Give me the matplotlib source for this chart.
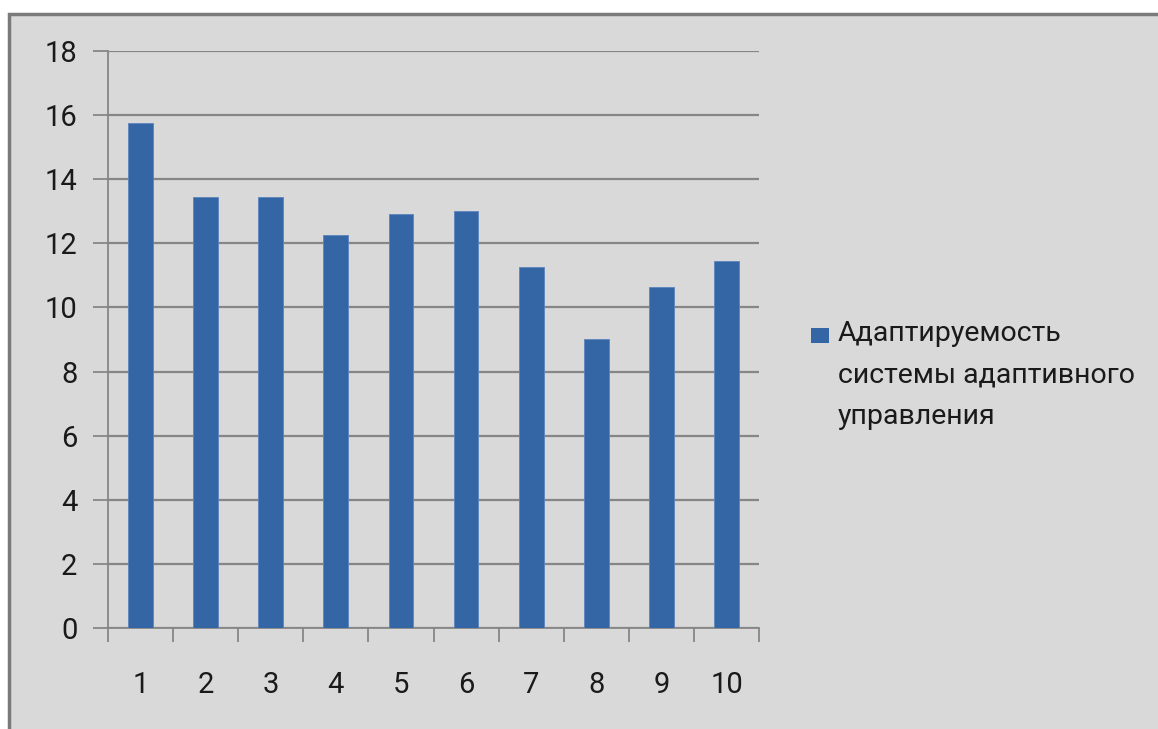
import matplotlib.pyplot as plt
from matplotlib.patches import Rectangle

plt.rcParams['font.family'] = ['Roboto', 'DejaVu Sans']

# data
categories = [1, 2, 3, 4, 5, 6, 7, 8, 9, 10]
values = [15.75, 13.45, 13.45, 12.25, 12.9, 13.0, 11.25, 9.02, 10.64, 11.44]
series_name = 'Адаптируемость\nсистемы адаптивного\nуправления'

bar_color = '#3465a4'
bg = '#d9d9d9'
line_c = '#868686'

fig = plt.figure(figsize=(11.58, 7.29), dpi=100, facecolor='white')

# chart area background with frame
W, H = 1158, 729
fig.patches.append(Rectangle((9 / W, -0.05), 1.1, 1 - 14 / H + 0.05,
                             transform=fig.transFigure, facecolor=bg,
                             edgecolor='#7a7a7a', linewidth=2.5, zorder=-5))

ax = fig.add_axes([108 / W, 1 - 628 / H, (759 - 108) / W, (628 - 51) / H])
ax.set_facecolor('none')

ax.bar(categories, values, width=0.38, color=bar_color, zorder=3,
       edgecolor='#5b84bd', linewidth=0.6)

ax.set_xlim(0.5, 10.5)
ax.set_ylim(0, 18)
ax.set_yticks(range(0, 19, 2))
ax.yaxis.grid(True, color=line_c, linewidth=1.6)
ax.set_axisbelow(True)

ax.set_xticks(categories)
ax.set_xticklabels([str(c) for c in categories])
ax.set_xticks([c - 0.5 for c in categories] + [10.5], minor=True)
ax.tick_params(axis='x', which='major', length=0, pad=31, labelsize=21, colors='#1a1a1a')
ax.tick_params(axis='x', which='minor', length=10, width=1.3, color=line_c)
ax.tick_params(axis='y', length=11, width=1.3, color=line_c, pad=11, labelsize=21,
               labelcolor='#1a1a1a')

for s in ['top', 'right']:
    ax.spines[s].set_visible(False)
for s in ['left', 'bottom']:
    ax.spines[s].set_color(line_c)
    ax.spines[s].set_linewidth(1.3)

# legend
fig.patches.append(Rectangle((811 / W, 1 - 343 / H), 18 / W, 15 / H,
                             transform=fig.transFigure, facecolor=bar_color,
                             edgecolor='none', zorder=3))
fig.text(838 / W, 1 - 320 / H, series_name, fontsize=20.5, color='#1a1a1a',
         va='top', ha='left', linespacing=1.68)

fig.savefig('out.png', dpi=100, facecolor='white')
